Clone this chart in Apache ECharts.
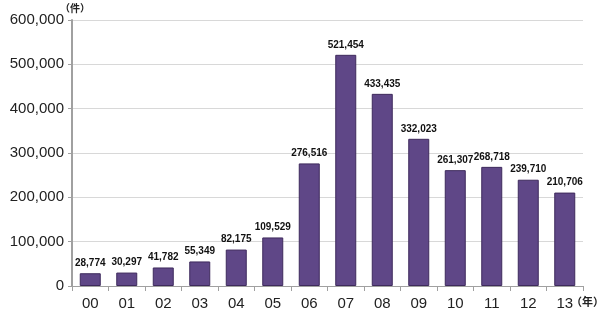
<!DOCTYPE html>
<html><head><meta charset="utf-8">
<script src="https://cdn.jsdelivr.net/npm/echarts@6/dist/echarts.min.js"></script>
<style>html,body{margin:0;padding:0;background:#fff}#c{width:600px;height:314px}</style>
</head><body><div id="c"></div>
<script>
const categories = ['00','01','02','03','04','05','06','07','08','09','10','11','12','13'];
const values = [28774,30297,41782,55349,82175,109529,276516,521454,433435,332023,261307,268718,239710,210706];
const yTicks = [0,100000,200000,300000,400000,500000,600000];

const chart = echarts.init(document.getElementById('c'));
chart.setOption({
  animation:false,
  grid:{left:72,right:17,top:20,bottom:28},
  graphic:[
    {type:'text',left:60,top:3,style:{text:'（件）',font:'bold 10px "Noto Sans CJK JP"',fill:'#222'}},
    {type:'text',left:571,top:296,style:{text:'（年）',font:'bold 11px "Noto Sans CJK JP"',fill:'#222'}}
  ],
  xAxis:{type:'category',data:categories,
    axisLine:{lineStyle:{color:'#a0a0a0',width:1}},
    axisTick:{show:true,alignWithLabel:false,length:5,lineStyle:{color:'#a0a0a0'}},
    axisLabel:{color:'#222',fontSize:15,fontFamily:'Liberation Sans',margin:10}},
  yAxis:{type:'value',min:0,max:600000,interval:100000,
    axisLine:{show:true,lineStyle:{color:'#a0a0a0',width:2}},
    axisTick:{show:true,length:4,lineStyle:{color:'#a0a0a0'}},
    splitLine:{lineStyle:{color:'#d8d8d8'}},
    axisLabel:{color:'#222',fontSize:15,fontFamily:'Liberation Sans',margin:8,
      formatter:v=>v.toLocaleString('en-US')}},
  series:[{type:'bar',data:values,barWidth:21,
    itemStyle:{color:'#5f4787',borderColor:'#3e2a5c',borderWidth:1},
    label:{show:true,position:'top',distance:5,color:'#111',fontSize:10,fontWeight:'bold',
      fontFamily:'Liberation Sans',formatter:p=>p.value.toLocaleString('en-US')}}]
});
</script></body></html>
